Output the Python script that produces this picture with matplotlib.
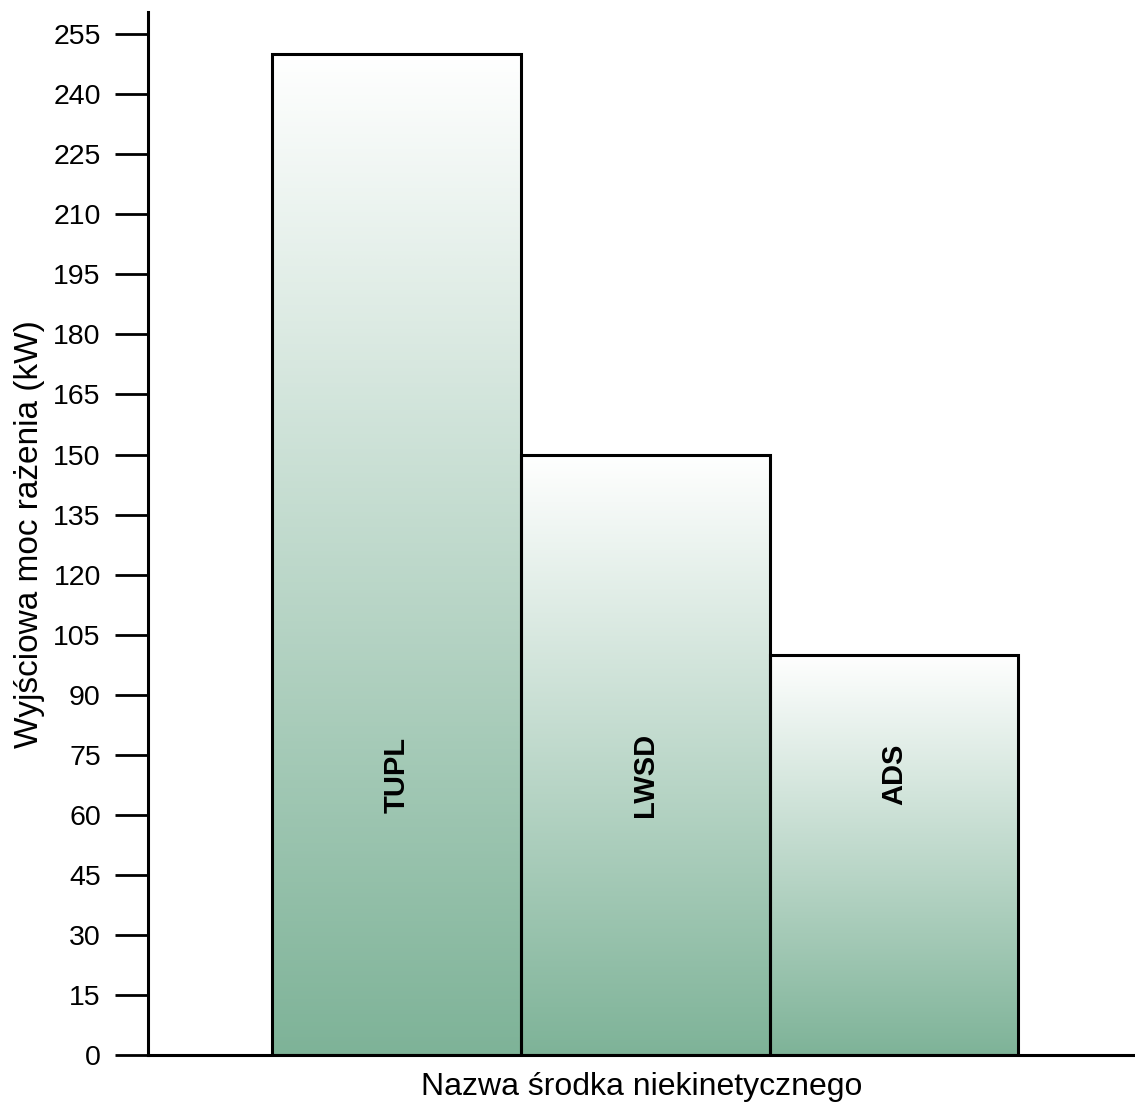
import matplotlib.pyplot as plt
import numpy as np
from matplotlib.colors import LinearSegmentedColormap

plt.rcParams['font.family'] = ['Liberation Sans', 'DejaVu Sans']

names = ['TUPL', 'LWSD', 'ADS']
values = [250, 150, 100]
yticks = list(range(0, 256, 15))

green = LinearSegmentedColormap.from_list('wg', ['#7eb398', '#ffffff'])
grad = np.linspace(0, 1, 256).reshape(-1, 1)

fig = plt.figure(figsize=(11.35, 11.08), dpi=100)
ax = fig.add_axes([0.1304, 0.0478, 0.8696, 0.9412])

x = np.arange(len(names))
bars = ax.bar(x, values, width=1.0, facecolor='none', edgecolor='black',
              linewidth=2.2, zorder=3)
for b, v, n in zip(bars, values, names):
    x0 = b.get_x()
    x1 = x0 + b.get_width()
    ax.imshow(grad, cmap=green, aspect='auto', origin='lower',
              extent=(x0, x1, 0, v), zorder=2, interpolation='bilinear')
    ax.text(x0 + b.get_width() / 2, 70, n, rotation=90, ha='center', va='center',
            fontsize=21, fontweight='bold', zorder=4)

ax.set_xlim(-1.0, 2.97)
ax.set_ylim(0, 260.5)
ax.set_yticks(yticks)
ax.set_xticks([])
ax.tick_params(axis='y', length=24, width=2, pad=10, labelsize=20.5)
for s in ['top', 'right']:
    ax.spines[s].set_visible(False)
ax.spines['left'].set_linewidth(2.2)
ax.spines['bottom'].set_linewidth(2.2)
ax.set_ylabel('Wyjściowa moc rażenia (kW)', fontsize=24, labelpad=6)
ax.set_xlabel('Nazwa środka niekinetycznego', fontsize=23, labelpad=12)

fig.savefig('out.png', dpi=100)
